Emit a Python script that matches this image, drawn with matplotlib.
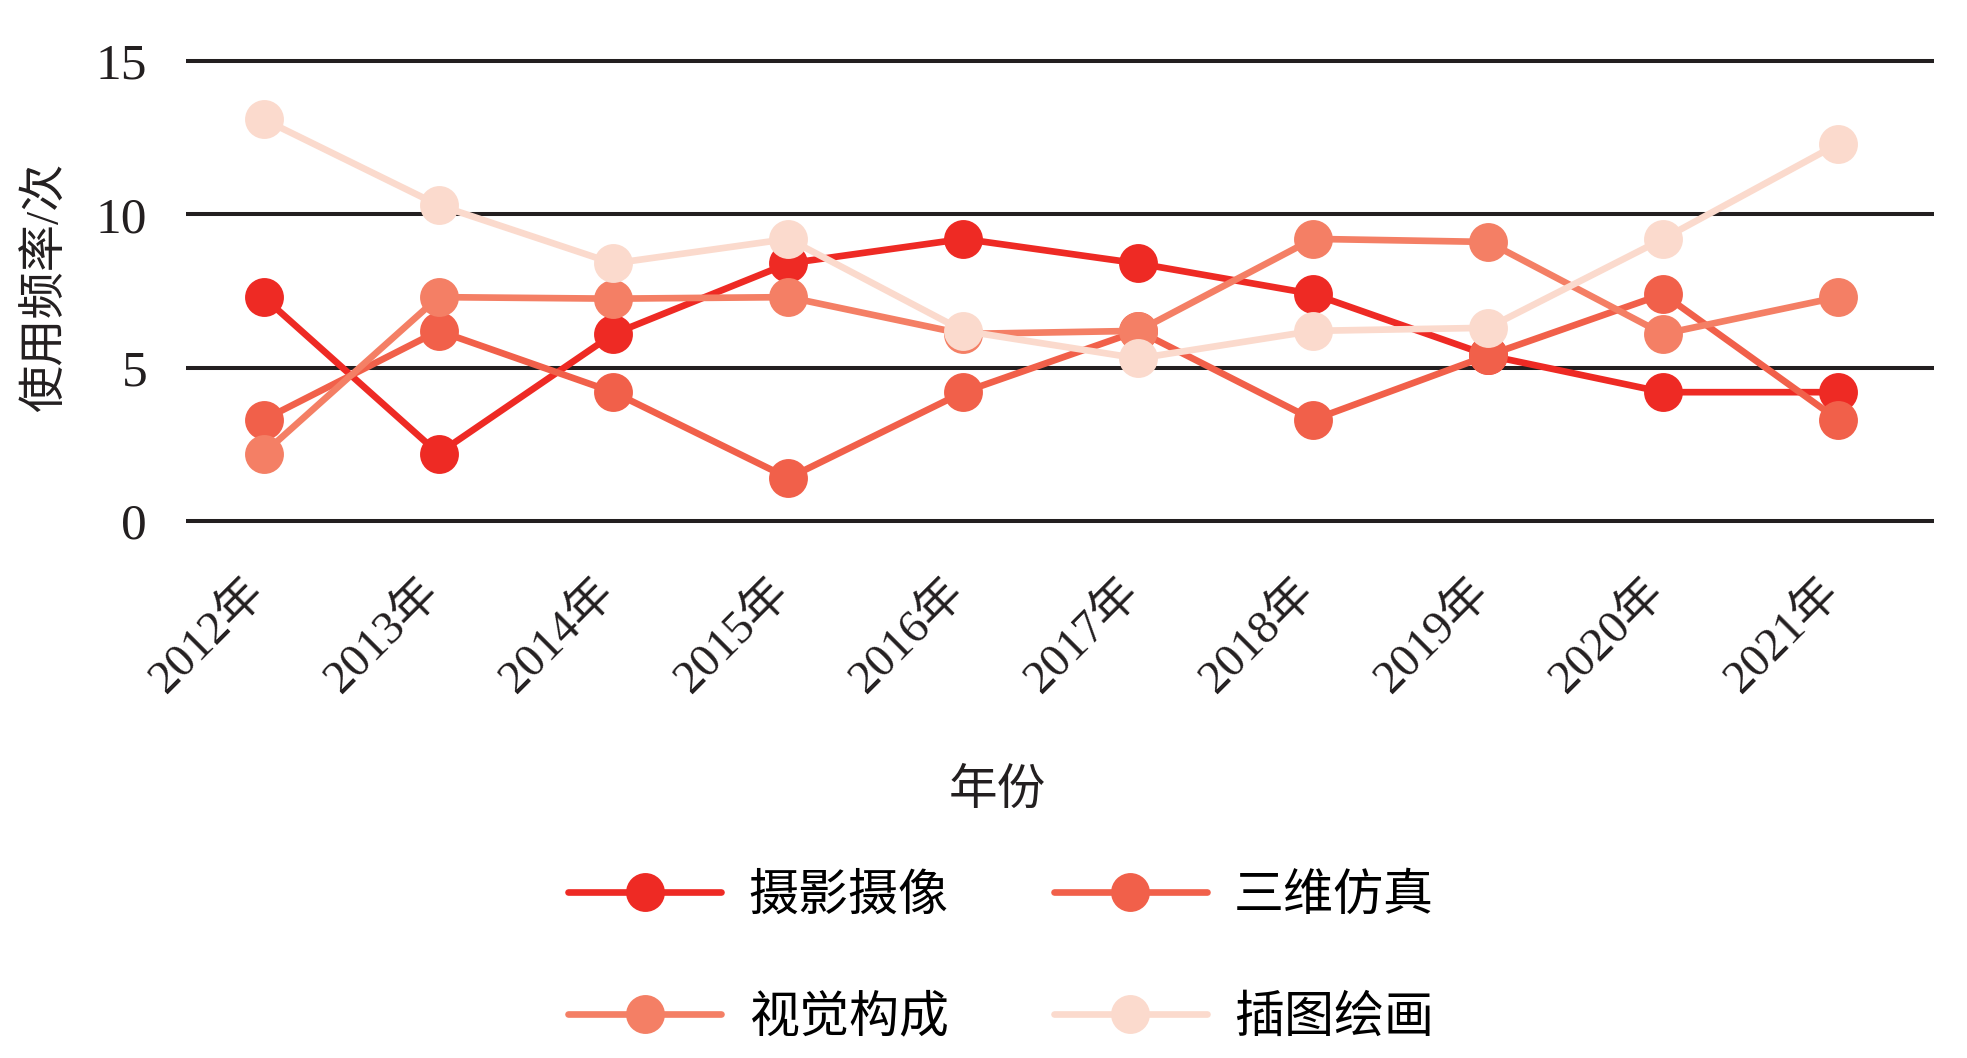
import matplotlib
matplotlib.use('Agg')
from matplotlib import pyplot as plt
from matplotlib.transforms import ScaledTranslation

plt.rcParams['font.family'] = ['Liberation Serif', 'Noto Sans CJK SC']

years = ['2012年', '2013年', '2014年', '2015年', '2016年',
         '2017年', '2018年', '2019年', '2020年', '2021年']
photo = [7.3, 2.2, 6.1, 8.4, 9.2, 8.4, 7.4, 5.4, 4.2, 4.2]
sim3d = [3.3, 6.2, 4.2, 1.4, 4.2, 6.2, 3.3, 5.4, 7.4, 3.3]
visual = [2.2, 7.3, 7.25, 7.3, 6.1, 6.2, 9.2, 9.1, 6.1, 7.3]
illust = [13.1, 10.3, 8.4, 9.2, 6.2, 5.3, 6.2, 6.3, 9.2, 12.3]

names = ['摄影摄像', '三维仿真', '视觉构成', '插图绘画']
colors = ['#EE2A24', '#F1604A', '#F47F65', '#FBDACD']

fig = plt.figure(figsize=(19.67, 10.58), dpi=100)
ax = fig.add_axes([0.0946, 0.5018, 0.8887, 0.4463])

x = list(range(len(years)))
handles = []
for vals, name, c in zip([photo, sim3d, visual, illust], names, colors):
    h, = ax.plot(x, vals, color=c, lw=4.8, marker='o', ms=28,
                 markeredgewidth=0, label=name, solid_capstyle='round')
    handles.append(h)

ax.set_xlim(-0.443, 9.549)
ax.set_ylim(-0.2, 15.2)
ax.set_yticks([0, 5, 10, 15])
ax.set_xticks(x)
ax.set_xticklabels(years, rotation=45, ha='right', va='top')
ax.yaxis.grid(True, color='#231F20', lw=2.9)
ax.set_axisbelow(True)
for s in ax.spines.values():
    s.set_visible(False)
ax.tick_params(axis='y', length=0, pad=28, labelsize=37, labelcolor='#231F20')
ax.tick_params(axis='x', length=0, pad=31, labelsize=34, labelcolor='#231F20')

# shift the slanted year labels a little to the right
shift = ScaledTranslation(0.10, 0, fig.dpi_scale_trans)
for lab in ax.get_xticklabels():
    lab.set_transform(lab.get_transform() + shift)

fig.text(0.024, 0.728, '使用频率/次', rotation=90, ha='center', va='center',
         fontsize=34, color='#231F20')
fig.text(0.507, 0.252, '年份', ha='center', va='center', fontsize=35,
         color='#231F20')

order = [0, 2, 1, 3]
fig.legend([handles[i] for i in order], [names[i] for i in order],
           loc='center', bbox_to_anchor=(0.509, 0.094), ncol=2, frameon=False,
           fontsize=36, handlelength=3.06, handletextpad=0.55,
           columnspacing=2.1, labelspacing=1.5, numpoints=1)

plt.savefig('out.png', dpi=100)
